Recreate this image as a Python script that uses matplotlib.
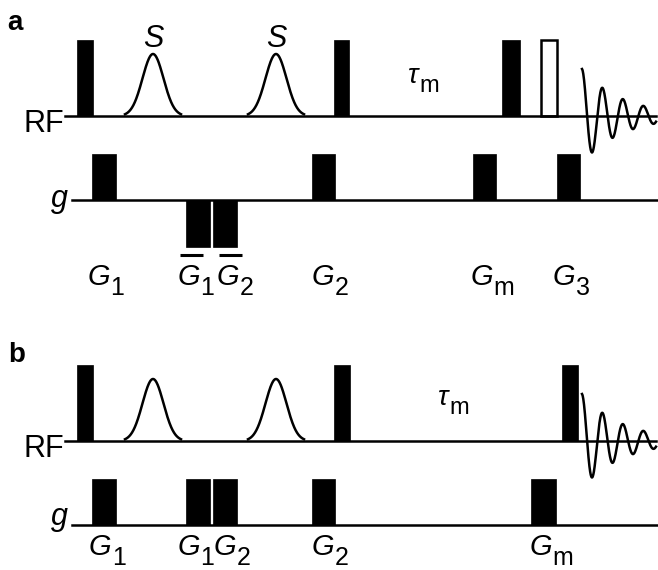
import numpy as np
import matplotlib
matplotlib.use("Agg")
import matplotlib.pyplot as plt
from matplotlib.patches import Rectangle

plt.rcParams['font.family'] = ['Liberation Sans', 'DejaVu Sans']

# time axis is in pixel-like units, 0..658 across the figure
# panel a
rf_base_a = 116
g_base_a = 200
rf_hard_a = [(77, 93), (334, 349), (502, 520)]
rf_open_a = [(540, 558)]
sel_centers_a = [153, 276]
grad_pos_a = [(92, 116), (312, 335), (473, 496), (557, 580)]
grad_neg_a = [(186, 210), (213, 237)]
glabels_a = ["G", "G", "G", "G", "G", "G"]
gsubs_a = ["1", "1", "2", "2", "m", "3"]
gbars_a = [False, True, True, False, False, False]
glabel_x_a = [88, 178, 217, 312, 471, 553]

# panel b
rf_base_b = 441
g_base_b = 525
rf_hard_b = [(77, 93), (334, 350), (562, 578)]
sel_centers_b = [153, 276]
grad_pos_b = [(92, 116), (186, 210), (213, 237), (312, 335), (531, 556)]
glabels_b = ["G", "G", "G", "G", "G"]
gsubs_b = ["1", "1", "2", "2", "m"]
glabel_x_b = [89, 178, 214, 312, 530]

hard_h = 76        # hard pulse height
sel_h = 62         # selective (gaussian) pulse height
sel_sigma = 10.5
grad_h = 46
fid_start = 582
fid_amp = 47
fid_period = 20.5
fid_decay = 40

fig = plt.figure(figsize=(6.58, 5.70), dpi=100)
ax = fig.add_axes([0, 0, 1, 1])
ax.set_xlim(0, 658)
ax.set_ylim(570, 0)
ax.axis('off')

LW = 1.8


def sublabel(x, y, main, sub, size=21, subsize=18, bar=False):
    t = ax.text(x, y, main, fontsize=size, style='italic', ha='left', va='baseline')
    ax.annotate(sub, xy=(1, 0), xycoords=t, xytext=(0, -3), textcoords='offset points',
                fontsize=subsize, ha='left', va='baseline')
    if bar:
        ax.plot([x + 2, x + 25], [y - 30, y - 30], color='k', lw=2.2, solid_capstyle='butt')


def draw_rf(base, hard, opn, sel, with_s):
    ax.plot([65, 656], [base, base], color='k', lw=LW)
    for x0, x1 in hard:
        ax.add_patch(Rectangle((x0, base), x1 - x0, -hard_h, facecolor='k', edgecolor='k', lw=0.5))
    for x0, x1 in opn:
        ax.add_patch(Rectangle((x0 + 1, base), x1 - x0 - 2, -hard_h, facecolor='white',
                               edgecolor='k', lw=LW))
    for c in sel:
        t = np.linspace(c - 28, c + 28, 200)
        ax.plot(t, base - sel_h * np.exp(-0.5 * ((t - c) / sel_sigma) ** 2), color='k', lw=LW)
        if with_s:
            ax.text(c, 47, "S", fontsize=22, style='italic', ha='center', va='baseline')
    t = np.linspace(0, 656 - fid_start, 400)
    ax.plot(fid_start + t, base - fid_amp * np.exp(-t / fid_decay) * np.cos(2 * np.pi * t / fid_period),
            color='k', lw=LW)
    ax.text(64, base + 16, "RF", fontsize=22, ha='right', va='baseline')


def draw_grad(base, pos, neg, g_dy):
    ax.plot([72, 657], [base, base], color='k', lw=LW)
    for x0, x1 in pos:
        ax.add_patch(Rectangle((x0, base), x1 - x0, -grad_h, facecolor='k', edgecolor='k', lw=0.5))
    for x0, x1 in neg:
        ax.add_patch(Rectangle((x0, base), x1 - x0, grad_h + 1, facecolor='k', edgecolor='k', lw=0.5))
    ax.text(68, base + g_dy, "g", fontsize=22, style='italic', ha='right', va='baseline')


# panel a
ax.text(7, 30, "a", fontsize=20, fontweight='bold', ha='left', va='baseline')
draw_rf(rf_base_a, rf_hard_a, rf_open_a, sel_centers_a, True)
draw_grad(g_base_a, grad_pos_a, grad_neg_a, 7)
for x, m, s, b in zip(glabel_x_a, glabels_a, gsubs_a, gbars_a):
    sublabel(x, 285, m, s, bar=b)
tau = ax.text(408, 83, "\u03c4", fontsize=20, style='italic', ha='left', va='baseline')
ax.annotate("m", xy=(1, 0), xycoords=tau, xytext=(1, -2), textcoords='offset points',
            fontsize=17, ha='left', va='baseline')

# panel b
ax.text(8, 362, "b", fontsize=20, fontweight='bold', ha='left', va='baseline')
draw_rf(rf_base_b, rf_hard_b, [], sel_centers_b, False)
draw_grad(g_base_b, grad_pos_b, [], 0)
for x, m, s in zip(glabel_x_b, glabels_b, gsubs_b):
    sublabel(x, 555, m, s)
tau = ax.text(438, 405, "\u03c4", fontsize=20, style='italic', ha='left', va='baseline')
ax.annotate("m", xy=(1, 0), xycoords=tau, xytext=(1, -2), textcoords='offset points',
            fontsize=17, ha='left', va='baseline')

fig.savefig("out.png", dpi=100)
